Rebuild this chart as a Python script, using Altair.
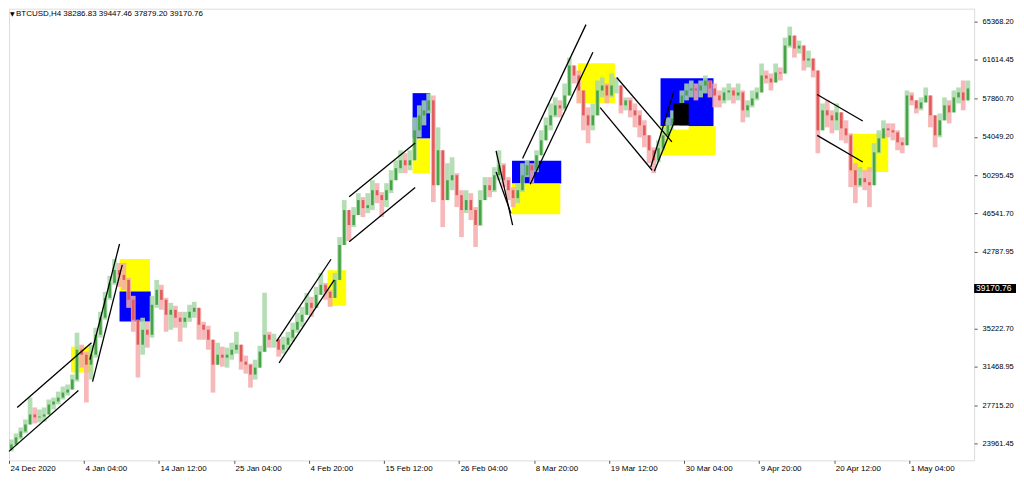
import altair as alt
import pandas as pd

# ---------------- data ----------------
# one candle = 4 H4 bars (16 hours); price in USD
open_first = 23370
close = [
    23860, 24550, 25140, 25820, 26800, 26510, 26600, 26800, 27780, 28070,
    28460, 28950, 29250, 30230, 33160, 32670, 31690, 32670, 34630, 36300,
    38250, 39720, 40990, 40500, 40010, 38060, 36100, 33650, 35120, 34630,
    37570, 39040, 38060, 36590, 37080, 36300, 35900, 36300, 36880, 37270,
    35610, 35120, 34140, 31690, 32670, 32380, 32670, 33160, 33650, 31990,
    31690, 30720, 31400, 32970, 34630, 34140, 34140, 33160, 33650, 34340,
    35120, 35900, 36590, 37760, 37270, 38550, 39530, 38840, 38250, 40010,
    43440, 46870, 45400, 46380, 47850, 47060, 47350, 48820, 48330, 47850,
    48820, 49800, 50980, 51760, 51270, 51760, 54700, 56170, 56660, 57640,
    49310, 52740, 47850, 49800, 50290, 48330, 46870, 47850, 46870, 45400,
    47850, 49310, 48820, 50290, 51270, 49800, 48820, 48040, 48820, 50290,
    51270, 50780, 52250, 53720, 55190, 56170, 57150, 56850, 58120, 61060,
    60080, 58610, 56170, 55190, 56170, 58610, 59100, 58120, 59100, 59100,
    57150, 57640, 56660, 56170, 55190, 54210, 52740, 51760, 52940, 54210,
    55190, 55870, 56660, 58120, 58610, 58810, 58610, 59100, 59590, 58810,
    58120, 57640, 58420, 58610, 58120, 58420, 56660, 57150, 57830, 58420,
    60080, 59790, 59400, 60380, 60280, 63020, 64000, 62730, 63020, 61550,
    61750, 60570, 54700, 56660, 56170, 55680, 56460, 54890, 54210, 50780,
    49310, 50000, 49610, 49310, 52540, 53910, 54890, 54700, 54500, 53520,
    53230, 58120, 57640, 56850, 57440, 58120, 56170, 54210, 55680, 57150,
    56460, 57930, 58420, 57640, 58810,
]
high = [
    24350, 24940, 25530, 26310, 28460, 27490, 27290, 27490, 28270, 28460,
    29050, 29540, 29740, 30720, 34830, 33650, 32970, 33650, 35320, 36880,
    38840, 40410, 42070, 41680, 41680, 40210, 38450, 35900, 36300, 35900,
    38450, 40010, 39530, 38250, 37760, 37470, 36880, 36880, 37570, 37860,
    37080, 35900, 35510, 34140, 33850, 33460, 33360, 33850, 34920, 33160,
    32580, 31790, 32180, 33550, 38740, 34920, 34730, 34240, 34440, 34920,
    35810, 36780, 37370, 38740, 38350, 39330, 40700, 39720, 39040, 40700,
    44220, 47850, 46570, 47160, 48530, 48140, 48530, 49800, 49510, 48630,
    49510, 50780, 51760, 52740, 52450, 52740, 55970, 57150, 57640, 58320,
    58120, 54990, 51760, 51470, 52060, 50490, 48820, 48820, 48530, 47160,
    48820, 50100, 50100, 51080, 52740, 51470, 50100, 49120, 49510, 51470,
    51760, 51470, 52740, 54700, 55970, 57340, 57930, 57640, 59300, 61840,
    60870, 60570, 58610, 56950, 57340, 59590, 59890, 59300, 60280, 59890,
    59100, 57930, 57930, 57340, 56660, 55680, 54210, 53030, 53720, 54990,
    55970, 56660, 57340, 58610, 59300, 59590, 59300, 59590, 60080, 59590,
    59300, 58610, 58910, 59300, 58910, 59300, 58610, 57640, 58610, 58910,
    61260, 60570, 60280, 61260, 60870, 63800, 64880, 63800, 63510, 62530,
    62530, 61260, 60570, 57340, 57640, 56660, 57340, 56360, 55680, 54400,
    51470, 51080, 50780, 51080, 53430, 54700, 55680, 55380, 55380, 54700,
    54010, 58610, 58420, 57640, 57930, 58910, 58120, 55380, 56360, 57930,
    57640, 58610, 58910, 59590, 59590,
]
low = [
    23180, 23770, 24350, 24940, 25820, 25920, 26020, 26110, 26900, 27290,
    27780, 28270, 28660, 29250, 30030, 31400, 27980, 30230, 32380, 34340,
    36100, 38060, 39530, 39330, 39040, 37270, 34920, 30420, 32670, 33360,
    34340, 37270, 37080, 34920, 35120, 35320, 33950, 35320, 35900, 36300,
    34140, 34140, 33160, 28950, 31790, 31500, 31400, 32180, 32770, 31200,
    30810, 29440, 30230, 31400, 32970, 33360, 33360, 32480, 32770, 33160,
    33950, 34830, 35410, 36780, 36390, 37370, 38740, 38060, 37370, 38250,
    41780, 45110, 43830, 45200, 46570, 46180, 46570, 46870, 47550, 46180,
    47160, 48530, 49800, 50490, 50490, 50780, 51760, 54010, 55190, 56360,
    47650, 49800, 45200, 47850, 48820, 47160, 44220, 46570, 45890, 43250,
    45300, 47850, 48140, 48630, 49800, 49120, 47850, 47160, 47550, 48630,
    50100, 49510, 50590, 52250, 53720, 54700, 55970, 55970, 56660, 58120,
    59300, 57340, 54700, 53430, 54700, 56170, 57930, 57340, 57930, 58320,
    56360, 56660, 55970, 54990, 54010, 53030, 51470, 50490, 51570, 52740,
    54010, 54700, 54990, 56460, 57640, 57930, 57640, 57930, 58320, 57930,
    56950, 56950, 57340, 57640, 57340, 57640, 55480, 55970, 56950, 57640,
    58420, 59300, 58610, 59400, 59590, 60280, 62820, 61840, 62240, 60570,
    60870, 59890, 52450, 55190, 54990, 54400, 54700, 53720, 53430, 49120,
    47550, 49120, 48820, 47160, 49310, 52450, 54010, 54010, 53720, 52740,
    52450, 53230, 57150, 56360, 56660, 57440, 54990, 53030, 54010, 55680,
    55380, 56460, 57340, 56660, 57640,
]

# zones (x in H4 bar index, price range)
box_x0 = [52.9, 94.3, 94.3, 271.8, 344.3, 344.3, 429.1, 429.1, 485.2, 555.8, 555.8, 717.6]
box_x1 = [71.3, 120.3, 120.9, 287.6, 359.2, 359.2, 471.1, 470.3, 516.9, 601.0, 602.9, 750.0]
box_lo = [30920, 38870, 35930, 37470, 53890, 50460, 49480, 46450, 57370, 55090, 52250, 50610]
box_hi = [33460, 42070, 38870, 40960, 58350, 53890, 51720, 49480, 61290, 59820, 55090, 54370]
box_kind = ["yellow", "yellow", "blue", "yellow", "blue", "yellow", "blue", "yellow",
            "yellow", "blue", "yellow", "yellow"]

top_x0 = [566.8, 566.8]
top_x1 = [579.8, 579.8]
top_lo = [55160, 54770]
top_hi = [57370, 55160]
top_kind = ["black", "white"]

# trend lines
line_x0 = [7.0, 0.0, 69.0, 71.3, 228.2, 230.4, 290.2, 290.2, 415.5, 415.5,
           438.1, 444.6, 518.4, 504.3, 547.4, 550.5, 689.4, 689.4]
line_p0 = [27485, 23177, 32184, 30030, 33975, 31860, 48169, 43764, 52672, 50616,
           51928, 49412, 59886, 56920, 51076, 50684, 58222, 54208]
line_x1 = [70.4, 59.2, 94.3, 96.6, 274.7, 277.5, 346.5, 346.5, 429.6, 428.2,
           492.2, 498.1, 565.5, 548.6, 567.2, 570.5, 728.3, 728.3]
line_p1 = [33847, 29149, 43539, 41484, 42041, 40015, 53455, 49089, 45399, 46544,
           65075, 62363, 53572, 50782, 58545, 56362, 55609, 51595]

x_tick_labels = ["24 Dec 2020", "4 Jan 04:00", "14 Jan 12:00", "25 Jan 04:00",
                 "4 Feb 20:00", "15 Feb 12:00", "26 Feb 04:00", "8 Mar 20:00",
                 "19 Mar 12:00", "30 Mar 04:00", "9 Apr 20:00", "20 Apr 12:00",
                 "1 May 04:00"]
bars_per_label = 64
price_ticks = [65368.20, 61614.45, 57860.70, 54049.20, 50295.45, 46541.70,
               42787.95, 35222.70, 31468.95, 27715.20, 23961.45]
last_price = 39170.76
header = "BTCUSD,H4  38286.83 39447.46 37879.20 39170.76"

# ---------------- build tables ----------------
rows = []
prev = open_first
for i, (c, h, l) in enumerate(zip(close, high, low)):
    o = prev
    rows.append({
        "t0": 4 * i, "t1": 4 * i + 4, "b0": 4 * i + 0.9, "b1": 4 * i + 3.1,
        "o": o, "c": c, "h": max(h, o, c), "l": min(l, o, c),
        "dir": "up" if c >= o else "down",
    })
    prev = c
candles = pd.DataFrame(rows)

boxes = pd.DataFrame({"x0": box_x0, "x1": box_x1, "lo": box_lo, "hi": box_hi, "kind": box_kind})
tops = pd.DataFrame({"x0": top_x0, "x1": top_x1, "lo": top_lo, "hi": top_hi, "kind": top_kind})
lines = pd.DataFrame({"x0": line_x0, "x1": line_x1, "p0": line_p0, "p1": line_p1})

W, H = 968, 453
FONT = "Liberation Sans"

xscale = alt.Scale(domain=[0, 823.3], nice=False, zero=False)
yscale = alt.Scale(domain=[22297, 66641], nice=False, zero=False)

label_js = "[" + ",".join("'%s'" % s for s in x_tick_labels) + "]"
xaxis = alt.Axis(values=[k * bars_per_label for k in range(len(x_tick_labels))],
                 labelExpr=label_js + "[round(datum.value/%d)]" % bars_per_label,
                 labelAlign="left", labelOffset=1, labelPadding=1, tickSize=3,
                 tickColor="#555555", labelFontSize=8, labelFont=FONT, labelColor="#000000",
                 grid=False, domain=False, title=None, labelOverlap=False,
                 labelFlush=False, labelBound=False)
yaxis = alt.Axis(orient="right", values=price_ticks, format=".2f", labelFontSize=7.5,
                 labelFont=FONT, labelColor="#000000", tickSize=3, tickColor="#555555",
                 labelPadding=5, grid=False, domain=False, title=None)

zone_colors = alt.Scale(domain=["yellow", "blue", "black", "white"],
                        range=["#ffff00", "#0000ff", "#000000", "#ffffff"])

zone_layer = alt.Chart(boxes).mark_rect().encode(
    x=alt.X("x0:Q", scale=xscale, axis=xaxis), x2="x1:Q",
    y=alt.Y("lo:Q", scale=yscale, axis=yaxis), y2="hi:Q",
    color=alt.Color("kind:N", scale=zone_colors, legend=None),
)

is_up = "datum.dir == 'up'"

range_layer = alt.Chart(candles).mark_rect(opacity=0.85).encode(
    x=alt.X("t0:Q", scale=xscale, axis=xaxis), x2="t1:Q",
    y=alt.Y("l:Q", scale=yscale, axis=yaxis), y2="h:Q",
    fill=alt.condition(is_up, alt.value("#a9d8a9"), alt.value("#f4abab")),
)

body_layer = alt.Chart(candles).mark_rect().encode(
    x=alt.X("b0:Q", scale=xscale, axis=xaxis), x2="b1:Q",
    y=alt.Y("o:Q", scale=yscale, axis=yaxis), y2="c:Q",
    fill=alt.condition(is_up, alt.value("#46a446"), alt.value("#e25a5a")),
)

top_layer = alt.Chart(tops).mark_rect().encode(
    x=alt.X("x0:Q", scale=xscale, axis=xaxis), x2="x1:Q",
    y=alt.Y("lo:Q", scale=yscale, axis=yaxis), y2="hi:Q",
    color=alt.Color("kind:N", scale=zone_colors, legend=None),
)

line_layer = alt.Chart(lines).mark_rule(color="#000000", strokeWidth=1.3).encode(
    x=alt.X("x0:Q", scale=xscale, axis=xaxis), x2="x1:Q",
    y=alt.Y("p0:Q", scale=yscale, axis=yaxis), y2="p1:Q",
)

one = pd.DataFrame({"k": [0]})
tri_layer = alt.Chart(one).mark_text(text="\u25bc", font="DejaVu Sans", fontSize=6,
                                     align="left", baseline="middle", color="#000000").encode(
    x=alt.value(1), y=alt.value(5.5))
head_layer = alt.Chart(one).mark_text(text=header, font=FONT, fontSize=8,
                                      align="left", baseline="middle", color="#000000").encode(
    x=alt.value(7), y=alt.value(5.5))

tag = pd.DataFrame({"p": [last_price], "t": ["%.2f" % last_price]})
tag_box = alt.Chart(tag).mark_point(shape="M-1,-0.214L1,-0.214L1,0.214L-1,0.214Z", filled=True,
                                    size=1764, color="#000000", opacity=1, strokeWidth=0).encode(
    x=alt.value(W + 21), y=alt.Y("p:Q", scale=yscale, axis=yaxis))
tag_text = alt.Chart(tag).mark_text(font=FONT, fontSize=8.5, align="left", baseline="middle",
                                    color="#ffffff").encode(
    x=alt.value(W + 2), y=alt.Y("p:Q", scale=yscale, axis=yaxis), text="t:N")

chart = alt.layer(
    zone_layer, range_layer, body_layer, top_layer, line_layer,
    tri_layer, head_layer, tag_box, tag_text,
).properties(
    width=W, height=H, padding={"left": 0, "top": 0, "right": 0, "bottom": 0},
    background="#ffffff",
).configure_view(stroke="#5a5a5a", strokeWidth=1).configure(font=FONT)

chart.save("out.html", embed_options={"renderer": "svg", "actions": False})
